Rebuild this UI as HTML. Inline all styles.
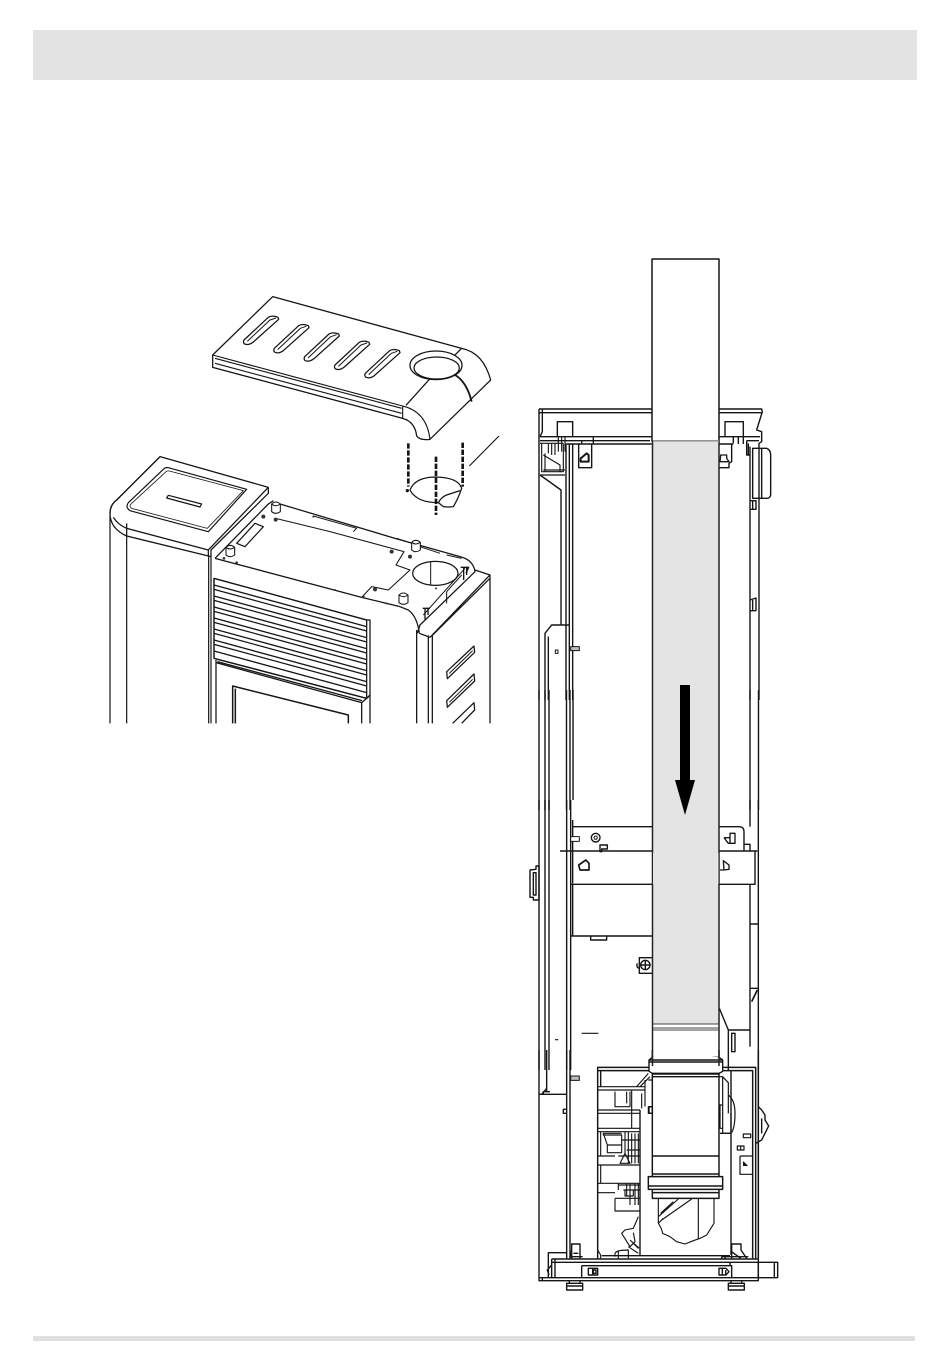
<!DOCTYPE html>
<html><head><meta charset="utf-8"><style>
html,body{margin:0;padding:0;background:#fff}
svg{display:block;position:absolute;left:0;top:0}
</style></head><body>
<svg width="950" height="1364" viewBox="0 0 950 1364" xmlns="http://www.w3.org/2000/svg" fill="none" stroke-linejoin="round">
<rect x="33" y="30" width="884" height="50" fill="#e3e3e3"/>
<rect x="33" y="1336" width="882" height="5" fill="#e0e0e0"/>

<!-- LEFT: stove perspective -->
<g transform="translate(100 280) scale(.33333)" stroke="#151515" stroke-width="3.8">
 <!-- top plate -->
 <path d="M338 225 518 50 1085 205Q1150 218 1172 300L990 478Q960 482 950 468Q945 425 908 415L338 262Z" fill="#fff"/>
 <path d="M338 225 908 378Q980 395 990 478M908 378V415M345 235 905 385M345 250 905 400" stroke-width="3.4"/>
 <path d="M1085 205 1062 228M990 296 918 376"/>
 <path d="M1065 285Q1100 305 1115 365" stroke-width="5.500"/>
 <ellipse cx="1008" cy="256" rx="78" ry="43" fill="#fff"/>
 <ellipse cx="1010" cy="264" rx="68" ry="33"/>
 <g fill="#fff">
  <path d="M432 180 505 112Q516 105 534 112L536 118 460 186Q446 197 434 192 428 188 432 180Z"/>
  <path d="M523 205 596 137Q607 130 625 137L627 143 551 211Q537 222 525 217 519 213 523 205Z"/>
  <path d="M614 230 687 162Q698 155 716 162L718 168 642 236Q628 247 616 242 610 238 614 230Z"/>
  <path d="M705 255 778 187Q789 180 807 187L809 193 733 261Q719 272 707 267 701 263 705 255Z"/>
  <path d="M796 280 869 212Q880 205 898 212L900 218 824 286Q810 297 798 292 792 288 796 280Z"/>
 </g>
 <path d="M442 184 510 120 528 114M533 209 601 145 619 139M624 234 692 170 710 164M715 259 783 195 801 189M806 284 874 220 892 214" stroke-width="3"/>

 <!-- gasket + dashes -->
 <path d="M930 630Q945 592 1005 591Q1075 592 1085 625Q1075 655 1060 680 1045 682 1030 680 1020 672 1015 668Q950 668 930 630Z" fill="#fff"/>
 <path d="M1015 668Q1025 650 1040 645L1080 632"/>
 <path d="M925 490V620M1008 530V705M1088 488V620" stroke-width="8" stroke-dasharray="16 5"/>
 <path d="M1108 558 1197 468" stroke-width="3.4"/>
 <circle cx="922" cy="632" r="3" fill="#151515"/>

 <!-- stove body lines -->
 <path d="M30 700V1330M80 730V1330M326 825V1330M333 830V1330" stroke-width="3.6"/>
 <path d="M180 530 505 622V640L333 810V830L80 768Q30 745 30 700Q30 675 50 660Z" fill="#fff"/>
 <path d="M180 530 50 660Q30 675 30 700M40 712Q55 735 80 745L325 810 505 622M80 730V768M325 810V830"/>
 <path d="M205 563 440 628 325 755 90 692Q75 682 85 668L190 568Q197 561 205 563Z" stroke-width="3.6"/>
 <path d="M208 573 430 632 322 745 95 685Q85 678 95 670L195 578Q200 571 208 573Z" stroke-width="2.4"/>
 <path d="M205 646 305 672 300 681 200 654Z" stroke-width="3.6"/>

 <!-- iron plate, outer -->
 <path d="M345 835 505 672 520 662M885 775 1080 830Q1120 840 1125 875L960 1035 952 1060M540 672 885 775"/>
 <path d="M345 835 785 952 900 980 925 990Q952 1010 958 1060M958 1060 990 1072 1170 885 1125 870M995 1068 1170 895M1170 885V1330M950 1050V1330M985 1066V1330M997 1068V1330"/>
 <!-- recessed plate -->
 <path d="M530 716 690 755 912 815 888 855 930 870 865 930 815 920 785 952" stroke-width="3.2"/>
 <path d="M640 708 770 745 760 755M890 775 935 790M960 800 1020 820M1040 825 1085 835" stroke-width="3"/>
 <path d="M410 790 465 730 490 740 435 800Z" stroke-width="3.6"/>
 <ellipse cx="1006" cy="880" rx="68" ry="36"/>
 <path d="M992 845V915" stroke-width="3"/>
 <path d="M1095 865 970 1005M1085 885 1040 935 1040 970" stroke-width="3"/>
 <path d="M1082 862H1106L1098 880M1091 862V900M1100 862V885M968 985H990M975 985V1018M984 985V1005" stroke-width="4"/>
 <g fill="#fff" stroke-width="3.2">
  <path d="M515 672V695Q527 705 541 695V672Q527 660 515 672Z"/><path d="M515 672Q527 682 541 672"/>
  <path d="M935 787V810Q947 820 961 810V787Q947 775 935 787Z"/><path d="M935 787Q947 797 961 787"/>
  <path d="M897 945V968Q910 978 924 968V945Q910 933 897 945Z"/><path d="M897 945Q910 955 924 945"/>
  <path d="M378 802V825Q390 835 404 825V802Q390 790 378 802Z"/><path d="M378 802Q390 812 404 802"/>
 </g>
 <g fill="#333" stroke="none">
  <circle cx="490" cy="710" r="6"/><circle cx="527" cy="719" r="6"/><circle cx="875" cy="815" r="6"/><circle cx="930" cy="830" r="6"/><circle cx="825" cy="928" r="6"/><circle cx="790" cy="950" r="4"/><circle cx="705" cy="930" r="3"/><circle cx="410" cy="848" r="4"/><circle cx="372" cy="835" r="4"/><circle cx="640" cy="710" r="3"/><circle cx="1008" cy="925" r="3"/><circle cx="860" cy="970" r="3"/>
 </g>

 <!-- louvers -->
 <path d="M342 895 800 1020V1255L342 1135Z" fill="#fff"/>
 <path d="M342 895 800 1020M342 915 800 1040M342 928 800 1053M342 948 800 1073M342 961 800 1086M342 981 800 1106M342 994 800 1119M342 1014 800 1139M342 1027 800 1152M342 1047 800 1172M342 1060 800 1185M342 1080 800 1205M342 1093 800 1218M342 1113 800 1238M342 1135 800 1255" stroke-width="3.800"/>
 <path d="M800 1020H810V1245L800 1255M342 895V1135"/>
 <path d="M348 1140V1330M348 1148 785 1268 806 1250M352 1145 786 1262M785 1268V1330M810 1245V1330"/>
 <path d="M398 1330V1218L745 1305V1330M406 1330V1226" stroke-width="4.500"/>
 <!-- side slots -->
 <g fill="#fff">
  <path d="M1040 1175 1122 1098 1124 1117 1042 1196Z"/>
  <path d="M1040 1262 1122 1182 1124 1203 1042 1282Z"/>
  <path d="M1058 1330 1122 1268 1124 1290 1085 1330"/>
 </g>
 <path d="M1048 1180 1118 1112M1048 1267 1118 1198" stroke-width="3"/>
</g>

<!-- continuous frame verticals between crops (real px) -->
<path d="M539 690V810M545 690V810M549 690V810M566.500 690V810M570 690V810M573 690V800M750 690V810M758.500 690V810" stroke="#151515" stroke-width="1.400"/>

<!-- RIGHT: frame upper -->
<g transform="translate(530 400) scale(.33333)" stroke="#151515" stroke-width="4.200">
 <path d="M27 27H695L697 35 680 90 695 95V125L687 130V900M660 140V900M27 27V900M37 27V95L30 110M27 38H695" />
 <path d="M30 110H365M30 122H360M110 132H365M567 110H690M567 132H610M650 122H687"/>
 <path d="M82 110V65H128V110M585 110V65H640V110"/>
 <path d="M108 130V900M118 130V900M128 130V900M93 270V675M30 225 93 270V275M45 900V700L65 675H118M55 710V900M108 675V900"/>
 <path d="M30 130H100M35 130V215H100V130M45 160V215M40 165 90 195V215M40 210H105M30 225H105M55 130V160M65 130V165M75 130V165M85 110V155M95 110V155M105 110V155" stroke-width="3.400"/>
 <path d="M146 130V203H185V130M190 112V130M155 120V130"/>
 <path d="M152 175 170 160 176 165V185H152Z" stroke-width="6"/>
 <path d="M605 130V185L597 190V203H567M610 110V130M625 110V132M640 110V132"/>
 <path d="M572 165H590V175L597 185H570Z" stroke-width="4"/>
 <path d="M650 122V165H660M655 130V165"/>
 <path d="M668 145H710Q722 150 722 165V285Q720 295 710 295H668ZM695 145V295"/>
 <path d="M660 302H678V328H660M668 302V328M660 600 678 594V632H660M668 600V632"/>
 <path d="M122 740H148V752H122Z" fill="#bbb" stroke-width="3"/>
 <rect x="76" y="750" width="8" height="10" stroke-width="3"/>
</g>

<!-- RIGHT: middle -->
<g transform="translate(520 800) scale(.33333)" stroke="#151515" stroke-width="4.200">
 <path d="M57 0V810M75 0V810M87 0V810M140 0V810M152 0V810M690 0V80M715 0V810"/>
 <path d="M158 80H398M598 80H660Q672 82 672 95V152M158 60V250M120 153H398M598 153H712M152 253H398M598 253H705V153"/>
 <path d="M152 408H398M212 408V420H260V408M158 253V408M690 255V690M690 372H715M690 565H715M690 690V740"/>
 <path d="M695 605 712 570" stroke-width="5"/>
 <path d="M30 210 48 208V198H57V300H40V292H30ZM40 218H48V285H40Z"/>
 <path d="M152 110H178V124H152Z" fill="#fff" stroke-width="3"/>
 <circle cx="227" cy="113" r="13"/><circle cx="227" cy="113" r="5" stroke-width="3"/>
 <path d="M240 135H262V147H245V155H240Z"/>
 <path d="M176 195 198 180 207 190V210H180Z" stroke-width="5"/>
 <path d="M600 210H612L610 182 627 195V208L612 210" stroke-width="4"/>
 <path d="M612 113H630V100H645V130H625L612 113M630 113V130" stroke-width="4"/>
 <path d="M672 133H690V152" />
 <path d="M398 473H358V520H398" />
 <circle cx="376" cy="495" r="14"/><path d="M376 480V510M362 495H392"/>
 <path d="M352 490Q348 500 356 505"/>
 <path d="M185 700H235M105 719H115" stroke-width="3.400"/>
 <path d="M598 625 625 690H690M625 690V810M635 700H645V755H635Z"/>
</g>

<!-- RIGHT: bottom frame -->
<g transform="translate(530 1050) scale(.33333)" stroke="#151515" stroke-width="4.200">
 <path d="M27 0V692H685V0M110 0V625M120 0V625M27 133H110M35 133 50 115M50 0V125M60 125H40V133M100 178H110V190H100Z"/>
 <path d="M122 78H148V91H122Z" fill="#bbb" stroke-width="3"/>
 <path d="M203 625V52H360M578 52H677V625M203 62H360M578 62H668V625M685 0V625" stroke-width="4.400"/>
 <path d="M330 180V615M603 62V615M212 62V110M570 250H603"/>
 <!-- electronics -->
 <g stroke-width="3.400">
  <path d="M203 110H345M203 120H345M203 180H330M203 190H330M203 235H330M203 245H330M245 120H335M255 125V170H300V125M305 120V235M290 125V160M345 90V170M335 130V175M320 110 355 70M330 110 360 80M355 90H367M355 170H367V190H355Z"/>
  <path d="M212 245V318M220 250 232 285V308H275V255H220ZM220 250H275M232 285H275M285 245V310M295 245V340M305 250V340M315 250V340M325 250V340M275 270H330M290 300H330M265 318H330M203 318H255M203 345H330M212 345V400M203 400H330M265 400V420M203 428H255M280 420H330M290 400V440M300 400V465M315 400V465M325 400V465M265 405H330M255 445V483H330M255 445H330M285 420H310V438H285ZM270 340 285 310 300 340ZM215 345H205"/>
  <path d="M325 500 310 535 285 540 275 550 300 590 315 575 310 548M295 590 325 610M300 570 328 595M310 580 325 595"/>
  <path d="M255 620V610Q260 600 295 600V625M265 605V625M203 600 212 615V625"/>
 </g>
 <!-- pipe lower -->
 <path d="M367 0V380M567 0V380M367 22H567" stroke-width="4.400"/>
 <path d="M367 0V22L357 30V64L367 70H567L578 64V30L567 22" fill="#fff"/>
 <path d="M357 30H578M358 36H577M367 72H567M367 80H567M367 318H567M367 372H567" stroke-width="4.200"/>
 <path d="M355 380H578V418H355ZM355 408H578M367 418V445H567V418M367 428H567" fill="#fff" stroke-width="4.400"/>
 <path d="M385 445V520Q395 535 398 550L420 560 440 575 465 582 490 572 510 565 530 555 552 520V445M505 445V565M385 500 445 447M395 510 485 447M385 520 400 505M392 490 430 455" stroke-width="3.400"/>
 <path d="M567 80H578V250H603V190M570 165H578V235H570ZM578 80 595 98V190M595 135Q615 150 615 190Q615 235 603 250" stroke-width="3.600"/>
 <path d="M357 170H367V190H357Z"/>
 <!-- right panel -->
 <path d="M640 252H662V263H640ZM622 288H642V300H622ZM632 288V300M630 318H667M630 318V373H667" stroke-width="3.600"/>
 <path d="M640 335 652 347H640Z" fill="#151515" stroke-width="2"/>
 <path d="M685 170 695 180 705 195V210L716 228 705 250 695 270 677 280M695 205V250" />
 <!-- base -->
 <path d="M65 627H685M65 637H685V683H743V637H685M65 627V683M75 627V683M685 683H27M55 683V608H110M65 645 52 660 57 675" />
 <path d="M155 647H605V683M155 647V683M733 637V683M600 637V647" />
 <path d="M175 655H203V675H175ZM188 655V675M190 660H198V670H190Z"/>
 <path d="M567 655H588L597 665 588 675H567ZM577 655V675M587 660V675"/>
 <path d="M110 700H158V720H110ZM110 708H158M118 692V700M150 692V700M595 700H643V720H595ZM595 708H643M603 692V700M635 692V700" />
 <path d="M125 625V582H150V625M125 600 120 620H158M130 610H145"/>
 <path d="M605 625V582H633V600L650 625M605 605 632 625M575 620H655M215 617H600" />
 <path d="M37 683V692M575 620V627M585 620V627"/>
</g>

<!-- PIPE -->
<rect x="652" y="259" width="67" height="182" fill="#fff" stroke="#151515" stroke-width="1.500"/>
<rect x="653" y="441" width="66" height="583" fill="#e4e4e4"/>
<path d="M652.500 441V1066M719 441V1066" stroke="#222" stroke-width="1.500"/>
<path d="M653 441H719" stroke="#9a9a9a" stroke-width="1.200"/>
<path d="M653.500 853V884M718 853V884" stroke="#fff" stroke-width=".8" opacity=".8"/>
<path d="M653 1024H719M653 1028H719M653 1030H719" stroke="#444" stroke-width="1"/>
<rect x="680" y="685" width="10" height="97" fill="#000"/>
<path d="M675 780H695L685 815Z" fill="#000"/>
</svg>
</body></html>
